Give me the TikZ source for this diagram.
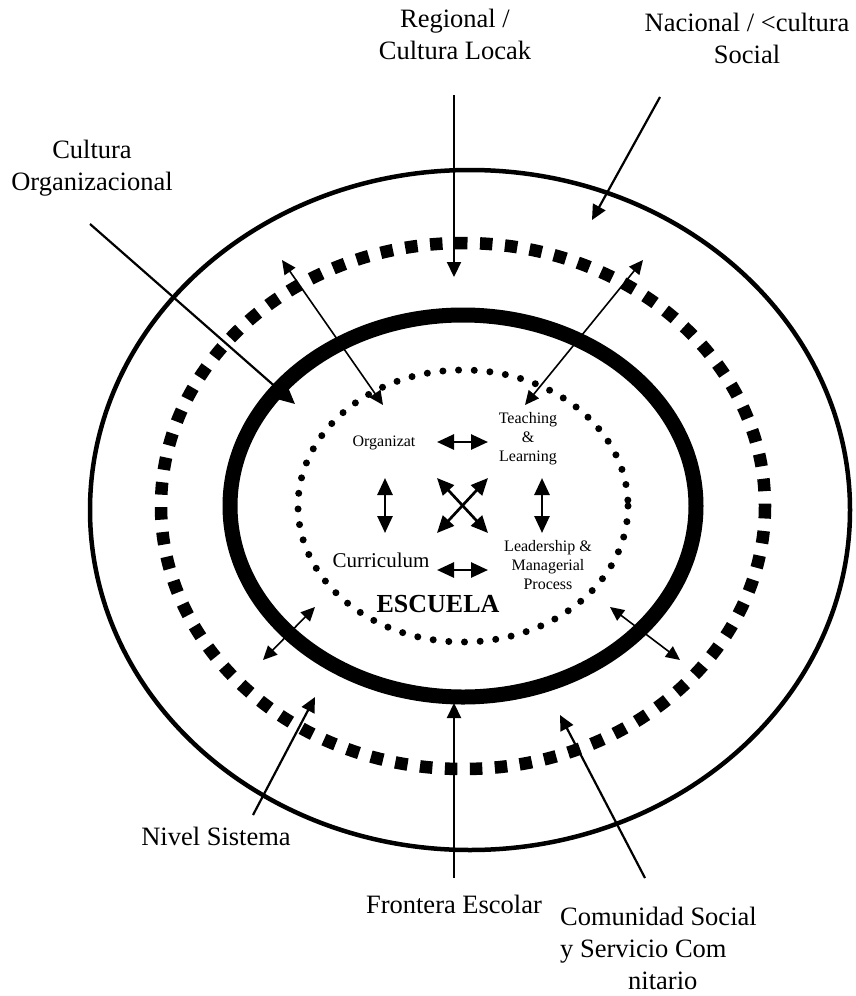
\documentclass[tikz,border=0pt]{standalone}
\usepackage{fontspec}
\setmainfont{Liberation Serif}
\usetikzlibrary{arrows.meta}

\begin{document}
\begin{tikzpicture}[
    x=1pt, y=-1pt,
    font=\fontsize{26.5}{32}\selectfont,
    lbl/.style={align=center, inner sep=0pt},
    inlbl/.style={align=center, inner sep=0pt, font=\fontsize{16}{19}\selectfont},
    ar/.style={-{Triangle[length=15pt, width=14pt]}, line width=2.2pt},
    arr/.style={{Triangle[length=14pt, width=13pt]}-{Triangle[length=14pt, width=13pt]}, line width=1.6pt},
    ari/.style={{Triangle[length=17pt, width=15pt]}-{Triangle[length=17pt, width=15pt]}, line width=2.7pt},
    ring/.style={line width=4.5pt},
    frontier/.style={line width=15pt},
    squares/.style={line width=12.5pt, dash pattern=on 12.5pt off 12.5pt},
    dots/.style={line width=7pt, line cap=round, dash pattern=on 0pt off 15.7pt}
]
\useasboundingbox (0,0) rectangle (856,996);

% rings
\coordinate (outer) at (470,510);
\coordinate (ctr) at (463,506);
\draw[ring] (outer) ellipse [x radius=380, y radius=340];
\draw[squares] (ctr) ellipse [x radius=302, y radius=263];
\draw[frontier] (ctr) ellipse [x radius=233, y radius=191];
\draw[dots] (ctr) ellipse [x radius=165, y radius=136];

% outer labels
\node[lbl] (regional) at (455,34) {Regional /\\Cultura Locak};
\node[lbl] (nacional) at (747,38) {Nacional / <cultura\\Social};
\node[lbl] (culorg) at (92,168) {Cultura\\Organizacional};
\node[lbl] (nivel) at (216,836) {Nivel Sistema};
\node[lbl] (frontera) at (454,904) {Frontera Escolar};
\node[lbl, align=left, anchor=west] (comunidad) at (560,948) {Comunidad Social\\y Servicio Com\\\hspace*{68pt}nitario};

% inner labels
\node[inlbl] (organizat) at (384,443) {Organizat};
\node[inlbl] (teaching) at (528,439) {Teaching\\\&\\Learning};
\node[inlbl, font=\fontsize{21}{25}\selectfont] (curriculum) at (381,560) {Curriculum};
\node[inlbl] (leadership) at (548,565) {Leadership \&\\Managerial\\Process};
\node[inlbl, font=\fontsize{26}{30}\selectfont\bfseries] (escuela) at (438,604) {ESCUELA};

% arrow ends
\coordinate (regS) at (454,95);   \coordinate (regT) at (454,277);
\coordinate (nacS) at (660,97);   \coordinate (nacT) at (592,220);
\coordinate (orgS) at (90,224);   \coordinate (orgT) at (295,404);
\coordinate (nivS) at (253,815);  \coordinate (nivT) at (315,697);
\coordinate (froS) at (454,878);  \coordinate (froT) at (454,703);
\coordinate (comS) at (645,878);  \coordinate (comT) at (560,715);
\coordinate (ulA) at (282,260);   \coordinate (ulB) at (383,405);
\coordinate (urA) at (643,260);   \coordinate (urB) at (525,405);
\coordinate (llA) at (315,607);   \coordinate (llB) at (263,660);
\coordinate (lrA) at (610,607);   \coordinate (lrB) at (680,660);

\draw[ar] (regS) -- (regT);
\draw[ar] (nacS) -- (nacT);
\draw[ar] (orgS) -- (orgT);
\draw[ar] (nivS) -- (nivT);
\draw[ar] (froS) -- (froT);
\draw[ar] (comS) -- (comT);
\draw[arr] (ulA) -- (ulB);
\draw[arr] (urA) -- (urB);
\draw[arr] (llA) -- (llB);
\draw[arr] (lrA) -- (lrB);

% inner links
\coordinate (tl) at (437,478); \coordinate (tr) at (488,478);
\coordinate (bl) at (437,533); \coordinate (br) at (488,533);
\draw[ari] (437,442) coordinate (h1a) -- (488,442) coordinate (h1b);
\draw[ari] (437,570) coordinate (h2a) -- (488,570) coordinate (h2b);
\draw[ari] (385,478) coordinate (v1a) -- (385,533) coordinate (v1b);
\draw[ari] (542,478) coordinate (v2a) -- (542,533) coordinate (v2b);
\draw[ari] (tl) -- (br);
\draw[ari] (bl) -- (tr);
\end{tikzpicture}
\end{document}
